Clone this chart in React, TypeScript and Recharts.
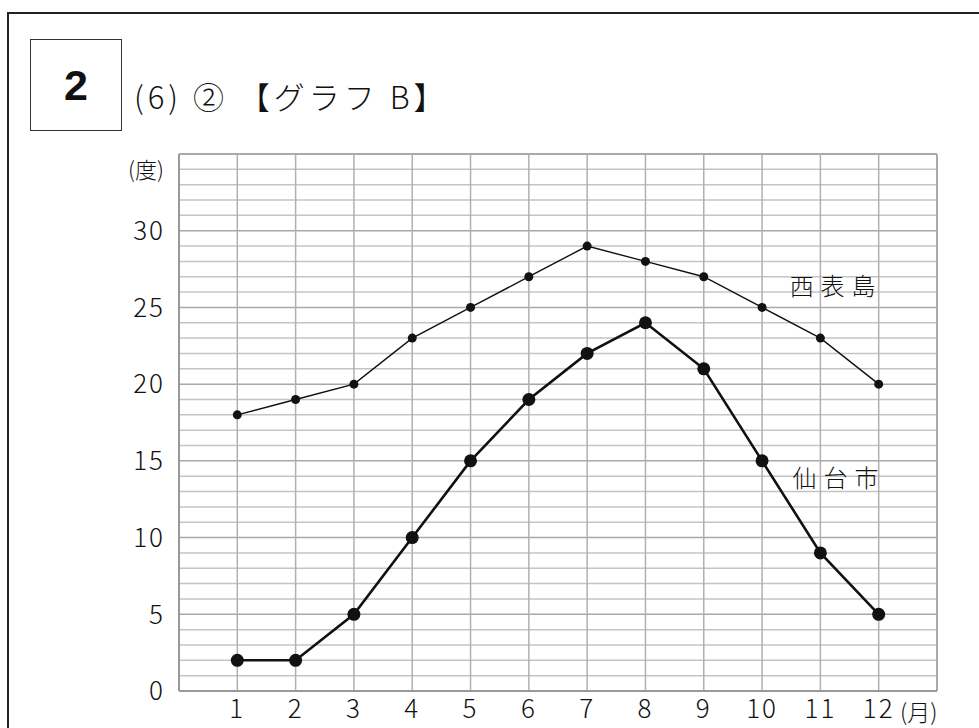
import React from "react";
import {
  LineChart,
  Line,
  XAxis,
  YAxis,
  ReferenceLine,
  ReferenceDot,
} from "recharts";

const months = [1, 2, 3, 4, 5, 6, 7, 8, 9, 10, 11, 12];
const iriomote = [18, 19, 20, 23, 25, 27, 29, 28, 27, 25, 23, 20];
const sendai = [2, 2, 5, 10, 15, 19, 22, 24, 21, 15, 9, 5];
const yTicks = [0, 5, 10, 15, 20, 25, 30];
const minorY = [1, 2, 3, 4, 6, 7, 8, 9, 11, 12, 13, 14, 16, 17, 18, 19, 21, 22, 23, 24, 26, 27, 28, 29, 31, 32, 33, 34];
const majorY = [5, 10, 15, 20, 25, 30, 35];
const xMax = 13;
const yMax = 35;

const data = months.map((m, i) => ({ m, a: iriomote[i], b: sendai[i] }));

const FONT = "'Noto Sans CJK JP', 'Noto Sans', sans-serif";

const SeriesLabel = (text: string) => (props: any) => {
  const vb = props.viewBox || {};
  const cx = vb.cx ?? vb.x;
  const cy = vb.cy ?? vb.y;
  return (
    <text
      x={cx}
      y={cy}
      textAnchor="middle"
      dominantBaseline="central"
      fontFamily={FONT}
      fontSize={24}
      fill="#111"
      letterSpacing={7}
      fontWeight={300}
    >
      {text}
    </text>
  );
};

const tickStyle = { fontSize: 26, fill: "#111", fontFamily: FONT, fontWeight: 300, letterSpacing: 2 };

export default function App() {
  return (
    <div
      style={{
        position: "absolute",
        left: 0,
        top: 0,
        width: 979,
        height: 728,
        background: "#fff",
        overflow: "hidden",
        fontFamily: FONT,
      }}
    >
      <div
        style={{
          position: "absolute",
          left: 7,
          top: 12,
          width: 1000,
          height: 800,
          border: "2px solid #222",
          boxSizing: "border-box",
        }}
      />
      <div
        style={{
          position: "absolute",
          left: 30,
          top: 39,
          width: 92,
          height: 92,
          border: "1px solid #333",
          boxSizing: "border-box",
          display: "flex",
          alignItems: "center",
          justifyContent: "center",
          fontFamily: "'Liberation Sans', Arial, sans-serif",
          fontWeight: 700,
          fontSize: 43,
          color: "#111",
        }}
      >
        2
      </div>
      <div
        style={{
          position: "absolute",
          left: 134,
          top: 74,
          fontSize: 31,
          color: "#111",
          whiteSpace: "nowrap",
          fontWeight: 300,
          lineHeight: "44px",
          letterSpacing: 4,
        }}
      >
        (6) ② 【グラフ B】
      </div>
      <div style={{ position: "absolute", left: 0, top: 0 }}>
        <LineChart
          width={979}
          height={728}
          data={data}
          margin={{ top: 154, right: 42, bottom: 0, left: 119 }}
        >
          <XAxis
            dataKey="m"
            type="number"
            domain={[0, xMax]}
            ticks={months}
            height={37}
            axisLine={false}
            tickLine={false}
            interval={0}
            tick={tickStyle}
            tickMargin={3}
          />
          <YAxis
            type="number"
            domain={[0, yMax]}
            ticks={yTicks}
            width={60}
            axisLine={false}
            tickLine={false}
            interval={0}
            tick={tickStyle}
            tickMargin={8}
          />
          {minorY.map((v) => (
            <ReferenceLine key={"mi" + v} y={v} stroke="#c4c4c4" strokeWidth={1.5} />
          ))}
          {majorY.map((v) => (
            <ReferenceLine key={"ma" + v} y={v} stroke="#a8a8a8" strokeWidth={1.5} />
          ))}
          {months.map((v) => (
            <ReferenceLine key={"vx" + v} x={v} stroke="#b0b0b0" strokeWidth={1.5} />
          ))}
          <ReferenceLine x={0} stroke="#999" strokeWidth={2} />
          <ReferenceLine x={xMax} stroke="#aaa" strokeWidth={2} />
          <ReferenceLine y={0} stroke="#999" strokeWidth={2} />
          <ReferenceLine y={yMax} stroke="#aaa" strokeWidth={2} />
          <Line
            dataKey="a"
            stroke="#111"
            strokeWidth={1.4}
            dot={{ r: 4.5, fill: "#111", stroke: "#111", strokeWidth: 0 }}
            activeDot={false}
            isAnimationActive={false}
          />
          <Line
            dataKey="b"
            stroke="#111"
            strokeWidth={2.6}
            dot={{ r: 6.5, fill: "#111", stroke: "#111", strokeWidth: 0 }}
            activeDot={false}
            isAnimationActive={false}
          />
          <ReferenceDot x={11.27} y={26.5} r={0} stroke="none" fill="none" label={SeriesLabel("西表島")} />
          <ReferenceDot x={11.32} y={14.0} r={0} stroke="none" fill="none" label={SeriesLabel("仙台市")} />
        </LineChart>
      </div>
      <div style={{ position: "absolute", left: 128, top: 152, fontSize: 22, color: "#111", fontWeight: 300 }}>
        (度)
      </div>
      <div style={{ position: "absolute", left: 900, top: 694, fontSize: 23, color: "#111", fontWeight: 300 }}>
        (月)
      </div>
    </div>
  );
}
